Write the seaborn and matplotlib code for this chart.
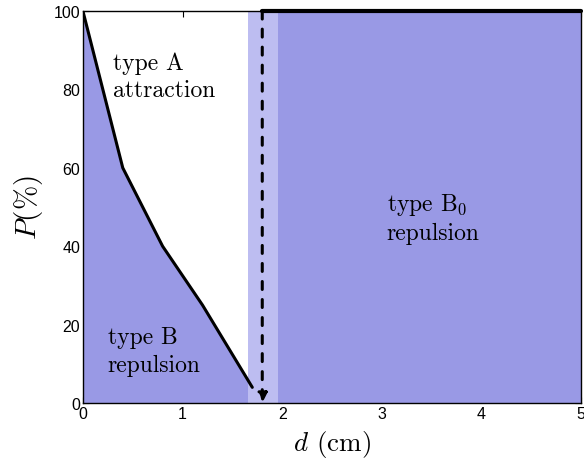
import matplotlib
matplotlib.use("Agg")
import matplotlib.pyplot as plt
import seaborn as sns
import pandas as pd

# data
d_vals = [0.0, 0.4, 0.8, 1.2, 1.7]
p_vals = [100, 60, 40, 25, 4]
band_lo, band_hi = 1.66, 1.96
d_crit = 1.80
x_max, y_max = 5, 100
xticks = [0, 1, 2, 3, 4, 5]
yticks = [0, 20, 40, 60, 80, 100]

sns.set_style("ticks")
plt.rcParams["font.family"] = ["Liberation Sans", "DejaVu Sans"]
plt.rcParams["mathtext.fontset"] = "cm"
plt.rcParams["text.color"] = "black"
plt.rcParams["axes.labelcolor"] = "black"
plt.rcParams["xtick.color"] = "black"
plt.rcParams["ytick.color"] = "black"
plt.rcParams["axes.edgecolor"] = "black"

dark = "#9999e5"
light = "#bdbdf1"

fig = plt.figure(figsize=(5.84, 4.6), dpi=100)
ax = fig.add_axes([0.142, 0.1217, 0.853, 0.852])

df = pd.DataFrame({"d": d_vals, "P": p_vals})
ax.fill_between(d_vals, 0, p_vals, color=dark, lw=0, zorder=1)
ax.axvspan(band_lo, band_hi, color=light, lw=0, zorder=2)
ax.axvspan(band_hi, x_max, color=dark, lw=0, zorder=2)
sns.lineplot(data=df, x="d", y="P", color="black", lw=2.2, ax=ax, zorder=4)
ax.plot([d_crit, x_max], [y_max, y_max], color="black", lw=3, zorder=5, clip_on=False)
ax.annotate("", xy=(d_crit, 0), xytext=(d_crit, y_max),
            arrowprops=dict(arrowstyle="-|>", color="black", lw=2.2,
                            linestyle=(0, (2.6, 3.3)), mutation_scale=14, shrinkA=0, shrinkB=0),
            zorder=5)

tf = dict(fontsize=17, family="cmr10", va="top", ha="left", linespacing=1.3)
ax.text(0.30, 89.8, "type A\nattraction", **tf)
ax.text(0.25, 19.6, "type B\nrepulsion", **tf)
ax.text(3.05, 54.2, "type B$_0$\nrepulsion", **tf)

ax.set_xlim(0, x_max)
ax.set_ylim(0, y_max)
ax.set_xticks(xticks)
ax.set_yticks(yticks)
ax.tick_params(direction="in", top=True, right=True, labelsize=11.5, length=4, pad=2)
for s in ax.spines.values():
    s.set_linewidth(1.0)
ax.set_xlabel(r"$d$ (cm)", fontsize=19.5, family="cmr10", labelpad=5)
ax.set_ylabel(r"$P(\%)$", fontsize=21, labelpad=6)

fig.savefig("out.png", dpi=100)
